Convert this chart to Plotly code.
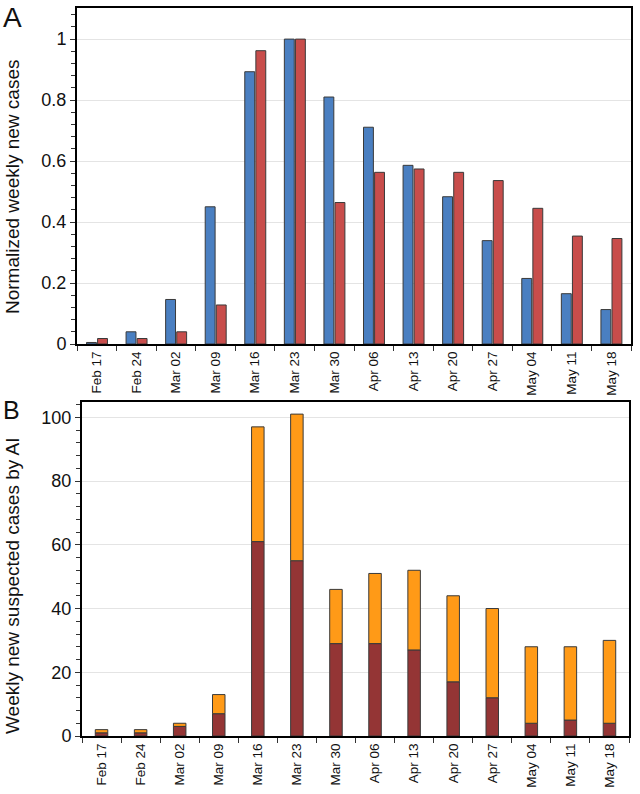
import plotly.graph_objects as go

weeks = ["Feb 17", "Feb 24", "Mar 02", "Mar 09", "Mar 16", "Mar 23", "Mar 30",
         "Apr 06", "Apr 13", "Apr 20", "Apr 27", "May 04", "May 11", "May 18"]

# Panel A: normalized weekly new cases
norm_blue = [0.005, 0.04, 0.146, 0.45, 0.893, 1.0, 0.81,
             0.711, 0.586, 0.483, 0.339, 0.215, 0.165, 0.113]
norm_red = [0.018, 0.018, 0.04, 0.128, 0.962, 1.0, 0.464,
            0.563, 0.574, 0.563, 0.536, 0.445, 0.354, 0.346]

# Panel B: weekly new suspected cases by AI (stacked)
ai_dark = [1, 1, 3, 7, 61, 55, 29, 29, 27, 17, 12, 4, 5, 4]
ai_total = [2, 2, 4, 13, 97, 101, 46, 51, 52, 44, 40, 28, 28, 30]
ai_orange = [t - d for t, d in zip(ai_total, ai_dark)]

W, H = 640, 794
BLUE = "#4a7fc1"
RED = "#c84d4b"
ORANGE = "#ff9a17"
DARK = "#943535"
OUTLINE = "#3a3a3a"
FONT = "Liberation Sans"

fig = go.Figure()
fig.add_trace(go.Bar(x=weeks, y=norm_blue, width=0.25, offset=-0.26,
                     marker=dict(color=BLUE, line=dict(color=OUTLINE, width=1)),
                     xaxis="x", yaxis="y", showlegend=False))
fig.add_trace(go.Bar(x=weeks, y=norm_red, width=0.25, offset=0.02,
                     marker=dict(color=RED, line=dict(color=OUTLINE, width=1)),
                     xaxis="x", yaxis="y", showlegend=False))
fig.add_trace(go.Bar(x=weeks, y=ai_dark, width=0.32, offset=-0.16,
                     marker=dict(color=DARK, line=dict(color=OUTLINE, width=1)),
                     xaxis="x2", yaxis="y2", showlegend=False))
fig.add_trace(go.Bar(x=weeks, y=ai_orange, base=ai_dark, width=0.32, offset=-0.16,
                     marker=dict(color=ORANGE, line=dict(color=OUTLINE, width=1)),
                     xaxis="x2", yaxis="y2", showlegend=False))

def px_x(a, b):
    return [a / W, b / W]

def px_y(top, bottom):
    return [1 - bottom / H, 1 - top / H]

def pxx(v):
    return v / W

def pxy(v):
    return 1 - v / H

xcommon = dict(type="category", range=[-0.5, 13.5], showline=True, linewidth=2,
               linecolor="black", mirror=True, ticks="outside", tickson="boundaries",
               ticklen=5, tickcolor="#333", tickangle=-90, showgrid=False,
               automargin=False,
               tickfont=dict(family=FONT, size=13.5, color="#111"))
ycommon = dict(showline=True, linewidth=2, linecolor="black", mirror=True,
               ticks="outside", ticklen=5, tickcolor="#333", showgrid=True,
               gridcolor="#e4e4e4", gridwidth=1, zeroline=False, automargin=False,
               tickfont=dict(family=FONT, size=18, color="#111"))

fig.update_layout(
    width=W, height=H, margin=dict(l=0, r=0, t=0, b=0, autoexpand=False),
    paper_bgcolor="white", plot_bgcolor="white", barmode="group",
    xaxis=dict(domain=px_x(77, 631), anchor="y", **xcommon),
    yaxis=dict(domain=px_y(8, 344), anchor="x", range=[0, 1.102],
               tickvals=[0, 0.2, 0.4, 0.6, 0.8, 1], ticktext=["0", "0.2", "0.4", "0.6", "0.8", "1"],
               minor=dict(dtick=0.04, tick0=0, ticks="outside", ticklen=4, tickcolor="#333", showgrid=False),
               **ycommon),
    xaxis2=dict(domain=px_x(82, 629), anchor="y2", **xcommon),
    yaxis2=dict(domain=px_y(402, 736), anchor="x2", range=[0, 104.8],
                tickvals=[0, 20, 40, 60, 80, 100],
                minor=dict(dtick=4, tick0=0, ticks="outside", ticklen=4, tickcolor="#333", showgrid=False),
                **ycommon),
    annotations=[
        dict(text="A", x=pxx(1), y=pxy(0), xref="paper", yref="paper",
             xanchor="left", yanchor="top", showarrow=False,
             font=dict(family=FONT, size=28, color="#111")),
        dict(text="B", x=pxx(1), y=pxy(410), xref="paper", yref="paper",
             xanchor="left", yanchor="middle", showarrow=False,
             font=dict(family=FONT, size=25, color="#111")),
        dict(text="Normalized weekly new cases", x=pxx(13), y=pxy(187),
             xref="paper", yref="paper", xanchor="center", yanchor="middle",
             textangle=-90, showarrow=False,
             font=dict(family=FONT, size=19, color="#111")),
        dict(text="Weekly new suspected cases by AI", x=pxx(12), y=pxy(586),
             xref="paper", yref="paper", xanchor="center", yanchor="middle",
             textangle=-90, showarrow=False,
             font=dict(family=FONT, size=19, color="#111")),
    ],
)

# remove the default page margin so the figure sits at the window's top-left corner
fig.write_html("out.html", config={"displayModeBar": False},
               post_script="document.body.style.margin='0';document.body.style.padding='0';")
